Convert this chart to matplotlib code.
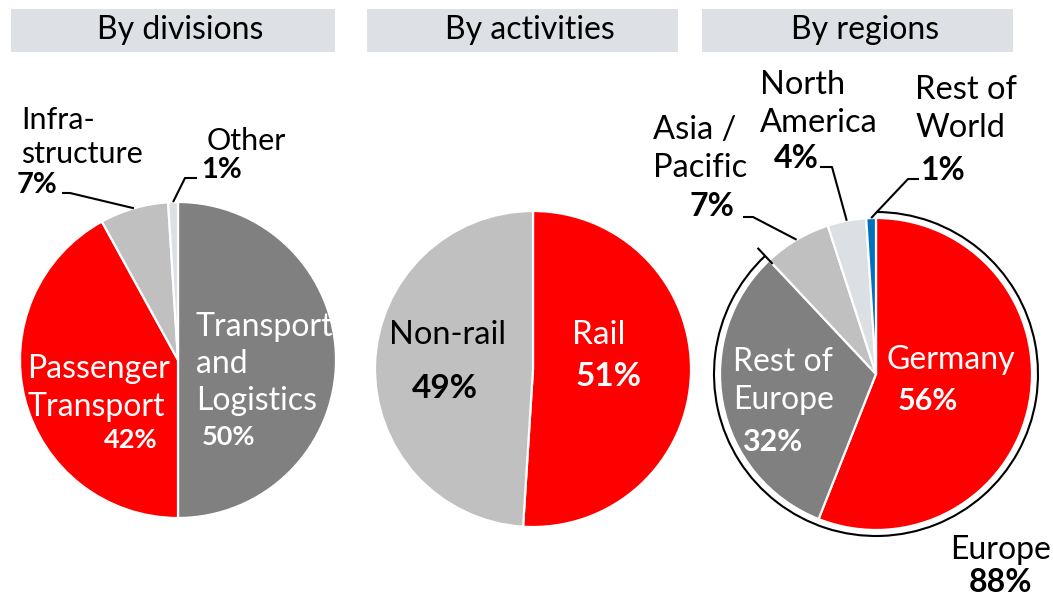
import numpy as np
import matplotlib.pyplot as plt
from matplotlib.patches import Rectangle, Arc


W, H = 1053, 599

RED = "#ff0000"
DARK = "#808080"
LIGHT = "#c0c0c0"
PALE = "#dcdfe4"
BLUE = "#0070c0"
HEAD = "#dde0e4"

headers = ["By divisions", "By activities", "By regions"]

div_labels = ["Transport\nand\nLogistics", "Passenger\nTransport", "Infra-\nstructure", "Other"]
div_share = [50, 42, 7, 1]
div_colors = [DARK, RED, LIGHT, PALE]

act_labels = ["Rail", "Non-rail"]
act_share = [51, 49]
act_colors = [RED, LIGHT]

reg_labels = ["Germany", "Rest of\nEurope", "Asia /\nPacific", "North\nAmerica", "Rest of\nWorld"]
reg_share = [56, 32, 7, 4, 1]
reg_colors = [RED, DARK, LIGHT, PALE, BLUE]

europe_label = "Europe"
europe_share = 88

FONT = ["Lato", "DejaVu Sans"]


def txt(ax, x, y, s, size, color="black", bold=False, ha="center", ls=1.2):
    ax.text(x, H - y, s, fontsize=size, color=color, family=FONT,
            fontweight="bold" if bold else "normal", ha=ha, va="center",
            linespacing=ls)


def draw_pie(ax, vals, colors, cx, cy, r):
    wedges, _ = ax.pie(vals, colors=colors, startangle=90, counterclock=False,
                       center=(cx, H - cy), radius=r, frame=True,
                       wedgeprops=dict(edgecolor="white", linewidth=1.6))
    return wedges


def leader(ax, wedge, pts):
    # elbow line from the label to the middle of the wedge's rim
    t = np.deg2rad((wedge.theta1 + wedge.theta2) / 2)
    cx, cy = wedge.center
    xs = [p[0] for p in pts] + [cx + wedge.r * np.cos(t)]
    ys = [H - p[1] for p in pts] + [cy + wedge.r * np.sin(t)]
    ax.plot(xs, ys, color="black", lw=1.5, solid_capstyle="butt")


fig = plt.figure(figsize=(W / 100, H / 100), dpi=100)
ax = fig.add_axes([0, 0, 1, 1])

# header bars
for (x0, x1), tx, s in zip([(11, 335), (367, 678), (702, 1013)], [180, 530, 865], headers):
    ax.add_patch(Rectangle((x0, H - 52), x1 - x0, 43, facecolor=HEAD, edgecolor="none"))
    txt(ax, tx, 30, s, 23)

IN = 23      # labels inside the pies
OUT1 = 22    # outside labels, divisions
OUT3 = 23.5  # outside labels, regions

# by divisions
w1 = draw_pie(ax, div_share, div_colors, 178, 360, 158)
txt(ax, 196, 364, div_labels[0], IN, "white", ha="left", ls=1.31)
txt(ax, 229, 437, f"{div_share[0]}%", 19.5, "white", bold=True)
txt(ax, 27, 388, div_labels[1], IN, "white", ha="left", ls=1.31)
txt(ax, 131, 440, f"{div_share[1]}%", 19.5, "white", bold=True)
txt(ax, 21, 137, div_labels[2], OUT1, ha="left", ls=1.27)
txt(ax, 37, 185, f"{div_share[2]}%", 21, bold=True)
txt(ax, 246, 141, div_labels[3], OUT1)
txt(ax, 222, 170, f"{div_share[3]}%", 21, bold=True)
leader(ax, w1[2], [(62, 193), (70, 193)])
leader(ax, w1[3], [(197, 178), (185, 178)])

# by activities
w2 = draw_pie(ax, act_share, act_colors, 533, 369, 158)
txt(ax, 599, 335, act_labels[0], 24, "white")
txt(ax, 609, 377, f"{act_share[0]}%", 24, "white", bold=True)
txt(ax, 447, 335, act_labels[1], 23.5)
txt(ax, 445, 388, f"{act_share[1]}%", 24, bold=True)

# by regions
cx3, cy3, r3 = 876, 374, 156
w3 = draw_pie(ax, reg_share, reg_colors, cx3, cy3, r3)

# ring around the European share, closed by a short radial tick
ring = r3 + 6
a_end = 90 - 360 * europe_share / 100
ax.add_patch(Arc((cx3, H - cy3), 2 * ring, 2 * ring, theta1=a_end, theta2=90,
                 color="black", lw=1.5))
t = np.deg2rad(a_end)
ax.plot([cx3 + (r3 - 4) * np.cos(t), cx3 + (ring + 10) * np.cos(t)],
        [H - cy3 + (r3 - 4) * np.sin(t), H - cy3 + (ring + 10) * np.sin(t)],
        color="black", lw=1.5)

txt(ax, 951, 360, reg_labels[0], IN, "white")
txt(ax, 928, 401, f"{reg_share[0]}%", 22, "white", bold=True)
txt(ax, 733, 381, reg_labels[1], IN, "white", ha="left", ls=1.3)
txt(ax, 772, 442, f"{reg_share[1]}%", 22, "white", bold=True)
txt(ax, 653, 149, reg_labels[2], OUT3, ha="left", ls=1.3)
txt(ax, 712, 207, f"{reg_share[2]}%", 23, bold=True)
txt(ax, 760, 104, reg_labels[3], OUT3, ha="left", ls=1.3)
txt(ax, 796, 158, f"{reg_share[3]}%", 23, bold=True)
txt(ax, 915, 109, reg_labels[4], OUT3, ha="left", ls=1.3)
txt(ax, 943, 170, f"{reg_share[4]}%", 23, bold=True)
leader(ax, w3[2], [(743, 217), (753, 217)])
leader(ax, w3[3], [(820, 167), (832, 167)])
leader(ax, w3[4], [(919, 179), (908, 179)])

txt(ax, 1001, 550, europe_label, 23)
txt(ax, 1000, 582, f"{europe_share}%", 23, bold=True)

ax.set_xlim(0, W)
ax.set_ylim(0, H)
ax.set_aspect("equal")
ax.axis("off")

fig.savefig("out.png", dpi=100)
